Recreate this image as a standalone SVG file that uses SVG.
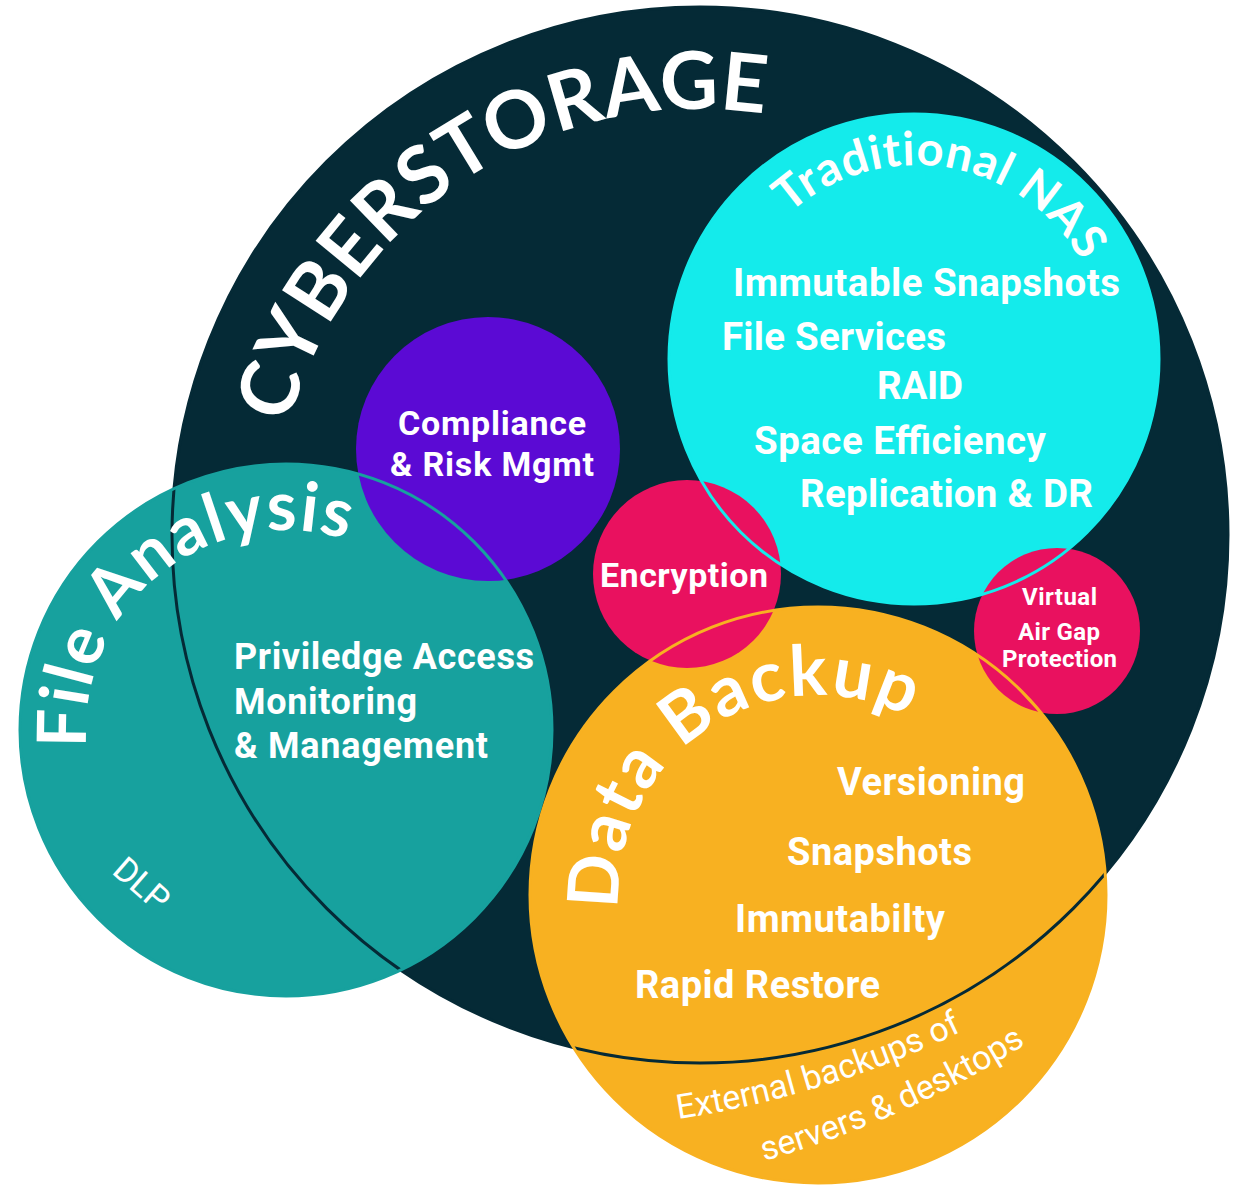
<svg xmlns="http://www.w3.org/2000/svg" width="1238" height="1185" viewBox="0 0 1238 1185">
<style>
.t{fill:#ffffff;font-family:Roboto,"Liberation Sans",sans-serif;font-weight:700}
.h{fill:#ffffff;font-family:Lato,"Open Sans",sans-serif;font-weight:700}
.r{fill:#ffffff;font-family:Roboto,"Liberation Sans",sans-serif;font-weight:400}
.ol{fill:none;stroke-width:3}
</style>
<defs>
<path id="pCyber" d="M288.5,424.7 A426,426 0 0 1 788.6,118.3"/>
<path id="pNas" d="M789.4,213.4 A190,190 0 0 1 1091,281"/>
<path id="pFile" d="M86.8,747.4 A200,200 0 0 1 354.4,542.1"/>
<path id="pData" d="M619,909 A200,200 0 0 1 918,721.8"/>
<path id="pExt1" d="M678,1119 A1000,1000 0 0 0 985,1020"/>
<path id="pExt2" d="M764,1161 A1000,1000 0 0 0 1045,1032"/>
</defs>
<rect width="1238" height="1185" fill="#ffffff"/>

<g id="cyberstorage">
<circle cx="700" cy="535" r="528" fill="#052a36"/>
<text class="h" font-size="80" letter-spacing="0.3"><textPath href="#pCyber">CYBERSTORAGE</textPath></text>
</g>

<g id="file-analysis">
<circle cx="286" cy="730" r="266" fill="#17a19e"/>
</g>

<g id="traditional-nas">
<circle cx="914" cy="359" r="245" fill="#14ebeb"/>
</g>

<g id="data-backup">
<circle cx="818" cy="895" r="288" fill="#f8b121"/>
</g>

<g id="compliance">
<circle cx="488" cy="449" r="132" fill="#5b0ad4"/>
</g>

<g id="encryption">
<circle cx="687" cy="574" r="94" fill="#e9115f"/>
</g>

<g id="air-gap">
<circle cx="1057" cy="631" r="83" fill="#e9115f"/>
</g>

<g id="outlines">
<circle class="ol" cx="700" cy="535" r="528" stroke="#052a36"/>
<circle class="ol" cx="286" cy="730" r="266" stroke="#17a19e"/>
<circle class="ol" cx="914" cy="359" r="245" stroke="#14ebeb"/>
<circle class="ol" cx="818" cy="895" r="288" stroke="#f8b121"/>
</g>

<g id="labels">
<text class="h" font-size="47" letter-spacing="0.8"><textPath href="#pNas">Traditional NAS</textPath></text>
<text class="t" font-size="38.5" x="733" y="296" textLength="387">Immutable Snapshots</text>
<text class="t" font-size="38.5" x="722" y="350" textLength="224">File Services</text>
<text class="t" font-size="38.5" x="877" y="399" textLength="86">RAID</text>
<text class="t" font-size="38.5" x="754" y="454" textLength="292">Space Efficiency</text>
<text class="t" font-size="38.5" x="800" y="507" textLength="293">Replication &amp; DR</text>

<text class="t" font-size="34" x="398" y="435" textLength="188">Compliance</text>
<text class="t" font-size="34" x="390" y="476" textLength="204">&amp; Risk Mgmt</text>

<text class="t" font-size="34" x="600" y="587" textLength="168">Encryption</text>

<text class="t" font-size="24" x="1022" y="605" textLength="75">Virtual</text>
<text class="t" font-size="24" x="1018" y="640" textLength="82">Air Gap</text>
<text class="t" font-size="24" x="1002" y="667" textLength="115">Protection</text>

<text class="h" font-size="68" letter-spacing="1.7"><textPath href="#pFile">File Analysis</textPath></text>
<text class="t" font-size="36" x="234" y="669" textLength="300">Priviledge Access</text>
<text class="t" font-size="36" x="234" y="714" textLength="183">Monitoring</text>
<text class="t" font-size="36" x="234" y="758" textLength="254">&amp; Management</text>
<text class="r" font-size="34" transform="translate(142,884) rotate(41)" text-anchor="middle" y="12">DLP</text>

<text class="h" font-size="70" letter-spacing="2.3"><textPath href="#pData">Data Backup</textPath></text>
<text class="t" font-size="38" x="837" y="795" textLength="188">Versioning</text>
<text class="t" font-size="38" x="787" y="865" textLength="185">Snapshots</text>
<text class="t" font-size="38" x="735" y="932" textLength="210">Immutabilty</text>
<text class="t" font-size="38" x="635" y="998" textLength="245">Rapid Restore</text>
<text class="r" font-size="34"><textPath href="#pExt1">External backups of</textPath></text>
<text class="r" font-size="34"><textPath href="#pExt2">servers &amp; desktops</textPath></text>
</g>
</svg>
